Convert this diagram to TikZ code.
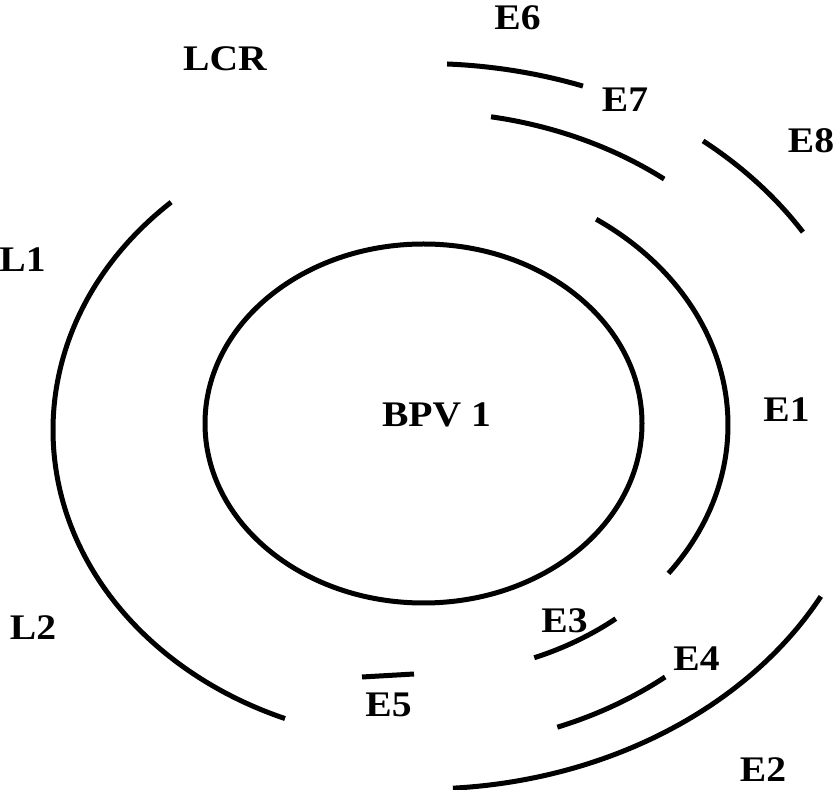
\documentclass[tikz,border=0pt]{standalone}
\usepackage{fontspec}
\setmainfont{Liberation Serif}
% labels are set slightly widened
\newcommand\stretchlabel[1]{\scalebox{1.1}[1]{#1}}
\begin{document}
\begin{tikzpicture}[x=1pt,y=1pt,
  ring/.style={line width=5pt, line cap=butt},
  lbl/.style={font=\fontsize{36}{40}\selectfont\bfseries, inner sep=0pt}]
\fill[white] (0,0) rectangle (836,790);
\useasboundingbox (0,0) rectangle (836,790);
% common centre of the gene rings
\coordinate (c) at (423,365);
\coordinate (cl) at (423,360);
% circular genome
\draw[ring] (423.5,366.5) ellipse [x radius=218.5, y radius=179.5];
\node[lbl] (bpv) at (436.5,375) {\stretchlabel{BPV 1}};
% inner ring: E1, E3, E5
\draw[ring] ([shift={(55.4:305 and 250)}]c) arc[start angle=55.4, end angle=-36.4, x radius=305, y radius=250];
\draw[ring] ([shift={(-68.6:305 and 250)}]c) arc[start angle=-68.6, end angle=-50.8, x radius=305, y radius=250];
\coordinate (e5a) at (362,113);
\coordinate (e5b) at (414,116);
\draw[ring] (e5a) -- (e5b);
% middle ring: L1/L2, E7, E4
\draw[ring] ([shift={(132.9:370 and 311)}]cl) arc[start angle=132.9, end angle=248.1, x radius=370, y radius=311];
\draw[ring] ([shift={(79.95:390 and 313)}]c) arc[start angle=79.95, end angle=51.8, x radius=390, y radius=313];
\draw[ring] ([shift={(-69.8:389 and 322)}]c) arc[start angle=-69.8, end angle=-51.5, x radius=389, y radius=322];
% outer ring: E6, E8, E2
\draw[ring] ([shift={(87.0:460 and 361.5)}]c) arc[start angle=87.0, end angle=69.65, x radius=460, y radius=361.5];
\draw[ring] ([shift={(51.3:448 and 364)}]c) arc[start angle=51.3, end angle=32.0, x radius=448, y radius=364];
\draw[ring] ([shift={(-86.2:451 and 364)}]c) arc[start angle=-86.2, end angle=-28.1, x radius=451, y radius=364];
% labels
\node[lbl] (lcr) at (225,731) {\stretchlabel{LCR}};
\node[lbl] (e6) at (517.5,772) {\stretchlabel{E6}};
\node[lbl] (e7) at (625,690.5) {\stretchlabel{E7}};
\node[lbl] (e8) at (811,649.5) {\stretchlabel{E8}};
\node[lbl] (l1) at (22.5,530) {\stretchlabel{L1}};
\node[lbl] (e1) at (786.5,380.5) {\stretchlabel{E1}};
\node[lbl] (l2) at (33,162.5) {\stretchlabel{L2}};
\node[lbl] (e3) at (564.5,169.5) {\stretchlabel{E3}};
\node[lbl] (e4) at (696.5,131) {\stretchlabel{E4}};
\node[lbl] (e5) at (388.5,85) {\stretchlabel{E5}};
\node[lbl] (e2) at (763,20) {\stretchlabel{E2}};
\end{tikzpicture}
\end{document}
